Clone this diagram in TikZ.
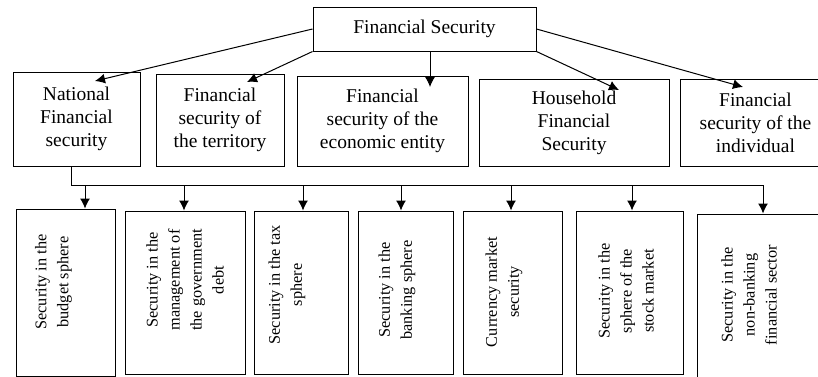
\documentclass[tikz,border=0pt]{standalone}
\usepackage{fontspec}
\setmainfont{Liberation Serif}
\usetikzlibrary{arrows.meta}
\begin{document}
\begin{tikzpicture}[x=1pt,y=-1pt,
  line width=1pt,
  box/.style={draw, inner sep=0pt, align=center},
  uptxt/.style={font=\fontsize{19.5}{23}\selectfont},
  lowtxt/.style={rotate=90, align=center, inner sep=0pt, font=\fontsize{16.3}{22}\selectfont},
  arr/.style={-{Latex[length=10pt,width=10pt]}}]
\useasboundingbox (0,0) rectangle (818,376);
% top
\node[box, uptxt, minimum width=223pt, minimum height=44pt] (fs) at (424.5,29) {Financial Security};
% second level
\node[box, uptxt, minimum width=127pt, minimum height=94pt] (nat) at (76.5,119) {National\\Financial\\security};
\node[box, uptxt, minimum width=128pt, minimum height=92pt] (ter) at (220,120) {Financial\\security of\\the territory};
\node[box, uptxt, minimum width=171pt, minimum height=90pt] (eco) at (382.5,121) {Financial\\security of the\\economic entity};
\node[box, uptxt, minimum width=190pt, minimum height=87pt] (hou) at (574,122.5) {Household\\Financial\\Security};
\node[box, uptxt, minimum width=150pt, minimum height=87pt] (ind) at (755.5,122.5) {Financial\\security of the\\individual};
% arrows from top
\coordinate (a1) at (95,81);
\coordinate (a2) at (247,82);
\coordinate (a3) at (430,87);
\coordinate (a4) at (619,90);
\coordinate (a5) at (743,87);
\draw[arr] (fs.west) -- (a1);
\draw[arr] (fs.south west) -- (a2);
\draw[arr] (fs.south -| a3) -- (a3);
\draw[arr] (fs.south east) -- (a4);
\draw[arr] (fs.east) -- (a5);
% bottom boxes
\node[box, minimum width=99pt, minimum height=167pt] (b1) at (65.5,292.5) {};
\node[box, minimum width=120pt, minimum height=163pt] (b2) at (185,292.5) {};
\node[box, minimum width=94pt, minimum height=163pt] (b3) at (301,292.5) {};
\node[box, minimum width=95pt, minimum height=163pt] (b4) at (405.5,292.5) {};
\node[box, minimum width=99pt, minimum height=163pt] (b5) at (512.5,292.5) {};
\node[box, minimum width=107pt, minimum height=163pt] (b6) at (629.5,292.5) {};
\node[box, minimum width=133pt, minimum height=166pt] (b7) at (763.5,297) {};
% bottom texts
\node[lowtxt] (t1) at (53.5,282) {Security in the\\budget sphere};
\node[lowtxt] (t2) at (185,280) {Security in the\\management of\\the government\\debt};
\node[lowtxt] (t3) at (287,285) {Security in the tax\\sphere};
\node[lowtxt] (t4) at (397,290) {Security in the\\banking sphere};
\node[lowtxt] (t5) at (504,292) {Currency market\\security};
\node[lowtxt] (t6) at (626,291) {Security in the\\sphere of the\\stock market};
\node[lowtxt] (t7) at (749,295) {Security in the\\non-banking\\financial sector};
% bus
\coordinate (d1) at (85,185);
\coordinate (d2) at (184,185);
\coordinate (d3) at (303,185);
\coordinate (d4) at (401,185);
\coordinate (d5) at (511,185);
\coordinate (d6) at (632,185);
\coordinate (d7) at (763,185);
\draw ([xshift=-5.5pt]nat.south) |- (d7);
\foreach \i in {1,...,7} {
  \draw[arr] (d\i) -- (d\i |- b\i.north);
}
\end{tikzpicture}
\end{document}
